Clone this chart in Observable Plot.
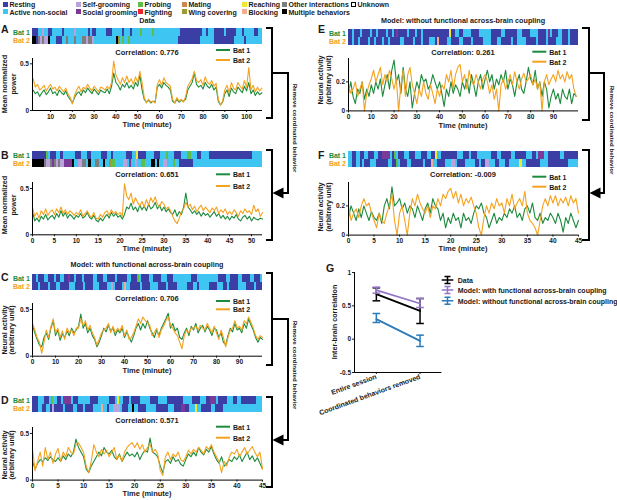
<!DOCTYPE html>
<html><head><meta charset="utf-8">
<script src="https://cdn.jsdelivr.net/npm/d3@7"></script>
<script src="https://cdn.jsdelivr.net/npm/@observablehq/plot@0.6"></script>
<style>
body{margin:0;background:#fff;}
#fig{position:relative;width:617px;height:500px;overflow:hidden;background:#fff;font-family:"Liberation Sans",Arial,Helvetica,sans-serif;font-weight:bold;color:#1a1a1a;}
.abs{position:absolute;white-space:nowrap;line-height:1;}
</style></head><body><div id="fig"></div>
<script>
// ---------------- DATA ----------------
const behaviorCodes  = ["R","A","S","G","P","F","M","W","C","B","O","X","U"];
const behaviorNames  = ["Resting","Active non-social","Self-grooming","Social grooming","Probing","Fighting","Mating","Wing covering","Reaching","Blocking","Other interactions","Multiple behaviors","Unknown"];
const behaviorColors = ["#3b3fa5","#3fc5f1","#b9a3dd","#7b3a98","#5dbf48","#e8262b","#c98a52","#9a9a36","#ece833","#f3ab95","#7d7d7d","#000000","#ffffff"];
const legendColumns  = [["Resting","Active non-social"],["Self-grooming","Social grooming"],["Probing","Fighting"],["Mating","Wing covering"],["Reaching","Blocking"],["Other interactions","Multiple behaviors"],["Unknown"]];

// behaviour sequences (one code per equal time bin)
const behA1 = "RRRAASAARRAAAAARAAAAASAAAAAARARRAAAAARRRAAAAARAAARAAAAPAAAAAPAAAAAAAAAAAAARRRRRRRRRRRAARAAARRRRRARRRRRAAARAAAAARRAA";
const behA2 = "XXROSOSSXAAARRRAAOAAAOAAAOOSOOSAAAAAAAAAAAXWAPAAPAAAAAAAAAAAAAAAAAAAAAAAARRRRRRRRRRRAAAAAAARRRRRRRRRRAAAAARAAAAAAAA";
const behB1 = "RRRRRRRPARRRAARAAAAAARRRAAARRAAAAARRRAARAAAAAARRRAACRRRRAAAARRRAAAPAAARRRAAAPPAAARRAAAARRRRRRRRRRRRRRRRRRRRRAAAAA";
const behB2 = "XXXXXXOSSOGOSOSSGGGGXAASSOOAXAAOOAAXAAWPPAAAASSAGAASAAPPAAAXXAXAASSAAAPAARRRRRRRAAAAAAAAAAAAAAAAAAAAAAAAAAAAAAAAAA";
const behC1 = "RRARRRAARRRARRAARRGRRARRRARRRRAARRRAARRRRARRRRRAARRRPARRRRAARRRRAAARRRAAAAAAAAARRRAAAAAAAAAARRRRAARRRRAARRRRAARRRA";
const behC2 = "RRRARRRRARRRAARRRRAAARRRRARRRRAAARRRRAASARRRABAARRRRRARRRRAAAARRRRARRRRAAAAARRRAARAAAAARRRRAAARRARRRRAAAARRRRARRR";
const behD1 = "RRRAAARRAPAARRAGGGGARRAAAAAARRRRAAAAARRRACAARRRARRRRAAAAARRRRAAAARRRRRRRRAAAARRRRAAARRGGGARRRRAAARRAARRRRRRRAAA";
const behD2 = "RRRAARRAARSRRRRARRRRAARRRARRRRAAAABAARAASSSARRRAAXAARRRRAAAAARRRRRRAAARRRGGRRAAACAARRRRRAARRRRAAAAAAAAAAAAAAAAAAA";
const behE1 = "RRARRRARRRRARRARRRRARRARGRRRRRARRRARRARRRRRRRRRRRRRCRRAARRAAAARRRRAAAAAARRRRRAARRRRRRAAARRRRAAAARRRRAGARRRAARRRARRRR";
const behE2 = "RRARRARRRRARRARRRARRARRRRRAARRRRARRRARRRAAARBRRRRAARRRRAARRRRARRRRRAAAARRRAARRRRRARRAAAARRRRRARRRRARRRRAAARRRARRRR";
const behF1 = "AARRAARRAARRRAARRGGGGARPARRRAARRRAAARRRAARRCAARRRRRRRRAAARRRARRRAAAAAAARRRAARRRRRAARRRRRAAARRAGGGAARRRRRRAARRRRRRR";
const behF2 = "AARRAARARRRAAARRRRRRAARRPARRRAARRRRRRARRRBAARRRRAAASSARRRRAAAAARRARRSSAAARRAAARRAAAAACAARRRRRRRAAAARRRRRRRRRRAAAAA";

// time series: start time, step (minutes), values
const timeA = {start: 2, step: 1};
const powA1 = [.22,.18,.2,.15,.19,.22,.17,.2,.24,.18, .2,.16,.22,.19,.17,.21,.15,.12,.08,.14, .18,.2,.16,.22,.19,.24,.21,.18,.23,.2, .17,.22,.2,.19,.23,.18,.26,.4,.3,.27, .22,.28,.25,.3,.24,.27,.23,.3,.26,.38, .22,.12,.09,.11,.08,.1,.09,.25,.28,.24, .3,.27,.25,.22,.1,.08,.12,.09,.11,.1, .12,.22,.26,.3,.4,.28,.25,.27,.23,.3, .26,.24,.28,.22,.25,.1,.06,.09,.18,.22, .15,.24,.2,.18,.25,.22,.19,.26,.21,.3, .18,.22,.16,.2,.17,.19];
const powA2 = [.34,.25,.28,.22,.24,.27,.21,.25,.28,.23, .25,.21,.26,.23,.2,.24,.18,.14,.07,.16, .22,.26,.2,.25,.23,.28,.24,.21,.26,.23, .2,.25,.24,.22,.26,.23,.3,.53,.38,.33, .28,.35,.3,.37,.3,.34,.28,.36,.3,.42, .3,.14,.08,.12,.09,.1,.08,.28,.33,.27, .35,.3,.28,.26,.12,.08,.14,.1,.12,.09, .15,.26,.3,.34,.42,.32,.3,.33,.27,.36, .3,.28,.32,.26,.29,.12,.06,.1,.22,.27, .19,.3,.24,.22,.3,.26,.23,.32,.25,.46, .22,.27,.2,.25,.21,.24];
const timeB = {start: 0, step: 0.5};
const powB1 = [.25,.15,.18,.14,.2,.17,.22,.16,.19,.21, .17,.23,.19,.26,.2,.24,.18,.22,.2,.17, .21,.19,.23,.18,.2,.24,.19,.17,.21,.16, .14,.18,.15,.19,.22,.18,.24,.2,.23,.19, .21,.17,.22,.3,.28,.34,.27,.3,.25,.32, .27,.31,.26,.33,.28,.3,.35,.28,.32,.26, .3,.25,.28,.24,.22,.27,.2,.25,.22,.3, .45,.3,.27,.23,.26,.22,.25,.2,.24,.21, .23,.19,.22,.25,.2,.23,.18,.21,.17,.2, .16,.2,.18,.22,.17,.15,.19,.21,.17,.2, .15,.19,.17,.16,.18,.17];
const powB2 = [.3,.2,.24,.18,.26,.22,.28,.21,.25,.27, .22,.28,.24,.3,.23,.27,.22,.26,.24,.21, .24,.22,.27,.2,.23,.26,.21,.19,.24,.18, .17,.22,.19,.24,.26,.21,.27,.23,.25,.22, .24,.2,.55,.42,.38,.45,.33,.4,.35,.31, .36,.3,.38,.32,.4,.35,.41,.33,.3,.36, .33,.28,.3,.26,.2,.15,.12,.18,.25,.28, .35,.3,.33,.27,.31,.25,.29,.32,.26,.3, .27,.24,.29,.26,.3,.23,.27,.24,.28,.22, .25,.22,.27,.24,.2,.26,.23,.28,.24,.26, .22,.32,.25,.28,.2,.24];
const timeC = {start: 0, step: 1};
const actC1 = [.33,.25,.18,.12,.1,.2,.25,.18,.3,.38, .22,.28,.17,.24,.2,.27,.22,.3,.25,.28, .32,.45,.3,.35,.25,.3,.22,.18,.1,.15, .22,.3,.26,.33,.27,.3,.22,.28,.25,.3, .2,.26,.2,.15,.22,.3,.35,.28,.35,.3, .38,.3,.25,.2,.28,.22,.3,.35,.4,.46, .3,.35,.27,.3,.2,.18,.25,.3,.22,.32, .28,.35,.25,.3,.33,.26,.32,.28,.22,.3, .28,.2,.25,.15,.12,.22,.3,.26,.35,.28, .3,.25,.35,.3,.4,.33,.28,.2,.15,.2, .18];
const actC2 = [.35,.28,.2,.15,.03,.15,.28,.2,.32,.4, .25,.3,.2,.27,.18,.3,.25,.28,.22,.3, .3,.4,.33,.38,.28,.33,.25,.2,.12,.18, .25,.28,.3,.35,.25,.32,.25,.3,.27,.33, .22,.28,.18,.2,.25,.32,.4,.35,.42,.38, .36,.33,.22,.25,.3,.2,.28,.32,.38,.42, .33,.3,.25,.22,.15,.08,.22,.28,.25,.3, .3,.32,.28,.33,.3,.28,.35,.3,.25,.32, .25,.18,.28,.2,.1,.2,.28,.3,.38,.3, .32,.28,.38,.35,.42,.36,.3,.22,.18,.22, .2];
const timeD = {start: 0, step: 0.5};
const actD1 = [.2,.12,.18,.22,.2,.24,.21,.25,.22,.2, .24,.2,.26,.22,.28,.25,.3,.44,.35,.3, .25,.12,.08,.15,.2,.25,.3,.26,.35,.3, .28,.32,.25,.22,.28,.2,.25,.3,.26,.28, .25,.3,.22,.28,.32,.3,.45,.3,.28,.25, .15,.08,.2,.22,.18,.25,.2,.22,.17,.15, .22,.28,.25,.3,.26,.35,.3,.27,.33,.3, .36,.28,.22,.18,.25,.15,.18,.22,.2,.25, .22,.27,.2,.25,.3,.22,.26,.2,.24,.18, .12];
const actD2 = [.33,.1,.2,.3,.15,.35,.22,.3,.18,.28, .34,.2,.3,.25,.35,.3,.28,.38,.4,.35, .3,.15,.08,.2,.38,.3,.25,.33,.28,.32, .25,.3,.35,.22,.27,.2,.3,.35,.38,.4, .35,.4,.33,.38,.3,.35,.38,.3,.33,.28, .1,.05,.25,.3,.22,.28,.25,.3,.22,.2, .25,.32,.28,.33,.3,.35,.32,.28,.36,.33, .38,.3,.25,.2,.08,.2,.15,.25,.3,.28, .33,.25,.3,.35,.28,.32,.36,.3,.25,.3, .12];
const timeE = {start: 0, step: 1};
const actE1 = [.12,.2,.1,.05,.15,.12,.2,.08,.15,.1, .18,.12,.2,.15,.22,.1,.18,.25,.15,.28, .35,.2,.25,.12,.3,.15,.1,.2,.02,.12, .2,.15,.25,.2,.22,.15,.18,.25,.2,.15, .2,.12,.03,.15,.1,.2,.12,.18,.15,.1, .2,.15,.22,.12,.25,.18,.1,.2,.25,.15, .22,.28,.2,.25,.15,.22,.18,.25,.2,.28, .15,.22,.18,.1,.2,.25,.15,.12,.2,.3, .22,.18,.28,.15,.2,.1,.2,.15,.02,.1, .15,.08,.12,.05,.15,.1,.08,.15,.05,.12, .1];
const actE2 = [.18,.12,.15,.2,.1,.15,.2,0,.12,.18, .22,.28,.2,.25,.3,.18,.25,.2,.28,.22, .15,.22,0,.18,.28,.1,.25,.3,.18,.12, .05,.15,.1,.2,.12,.08,.18,.12,.05,.15, .1,.18,.15,.25,.2,.28,.15,.25,.3,.32, .2,.25,.15,.28,.2,.18,.25,.2,.15,.22, .25,.2,.12,.18,.08,.15,0,.18,.22,.15, .2,.25,.18,.27,.2,.15,.22,.26,.2,.22, .25,.18,.22,.15,.2,0,.2,.25,.18,.22, .25,.2,.28,.22,.25,.2,.27,.22,.25,.15, .1];
const timeF = {start: 0, step: 0.5};
const actF1 = [.12,.2,.15,.1,.18,.12,.2,.15,.1,.16, .12,.1,.15,.08,.2,.25,.18,.33,.2,.22, .25,.18,.22,.15,.2,.18,.12,.2,.15,.1, .18,.22,.15,.25,.2,.18,.1,.15,.05,.12, .08,.15,.1,.12,.05,.15,.1,.12,.08,.15, .2,.18,.22,.15,.12,.05,.1,.15,.08,.12, .1,.15,.12,.18,.15,.2,.12,.15,.1,.18, .2,.15,.22,.12,.1,.15,.08,.12,.1,.15, .12,.08,.15,.1,.02,.12,.08,.15,.1,.05, .1];
const actF2 = [.2,.1,.15,.18,.12,.2,.25,.2,.22,.15, .1,.05,.15,.1,.08,.15,.2,.28,.1,0, .15,.2,.1,0,.15,.25,.2,.28,.22,.18, .15,.2,.12,.2,.18,.25,.2,.28,.25,.3, .32,.25,.3,.22,.28,.2,.25,.22,.26,.2, .15,.05,0,.12,.2,.15,.22,.18,.25,.2, .22,.15,.25,.2,.28,.18,.22,.25,.2,.3, .15,.1,.08,.05,0,.1,.2,.25,.2,.27, .22,.27,.2,.25,.22,.26,.2,.27,.22,.25, .15];

const ticksA = [10,20,30,40,50,60,70,80,90,100];
const ticksB = [0,5,10,15,20,25,30,35,40,45,50];
const ticksC = [0,10,20,30,40,50,60,70,80,90];
const ticks45 = [0,5,10,15,20,25,30,35,40,45];
const ticksPower = [0, 0.5];
const ticksModelWith = [0, 0.5];
const ticksModelWithout = [0, 0.2];
const correlations = {A:"0.776", B:"0.651", C:"0.706", D:"0.571", E:"0.261", F:"-0.009"};

// panel G
const gConditions = ["Entire session","Coordinated behaviors removed"];
const gSeries = ["Data","Model: with functional across-brain coupling","Model: without functional across-brain coupling"];
const gMean = [[0.675,0.425],[0.735,0.535],[0.30,-0.025]];
const gLow  = [[0.575,0.235],[0.69,0.475],[0.25,-0.11]];
const gHigh = [[0.77,0.61],[0.78,0.61],[0.385,0.06]];
const gColors = ["#000000","#9475c6","#2b7bbb"];
const gTicks = [-0.5, 0, 0.5, 1];

// ---------------- LAYOUT ----------------
const GREEN = "#1d8b3d", ORANGE = "#f4a21f";
const FONT = '"Liberation Sans", Arial, Helvetica, sans-serif';
const fig = document.getElementById("fig");

const panels = [
  {id:"A", x0:32,    barTop:27,    top:58,    zero:110,   xd:[1.7,107.3], yd:[0,0.557], time:timeA, s1:powA1, s2:powA2, b1:behA1, b2:behA2, xt:ticksA, yt:ticksPower, ylab:["Mean normalized","power"], labX:[5,13.5], labY:84,  corrY:52.7, legY:[50,60],     cx:147, letter:[1,29]},
  {id:"B", x0:32,    barTop:149.5, top:181.7, zero:234,   xd:[0,52.5],    yd:[0,0.565], time:timeB, s1:powB1, s2:powB2, b1:behB1, b2:behB2, xt:ticksB, yt:ticksPower, ylab:["Mean normalized","power"], labX:[5,13.5], labY:205, corrY:175,  legY:[174.3,186], cx:147, letter:[1,155]},
  {id:"C", x0:32,    barTop:272.5, top:303,   zero:355.7, xd:[0,100],     yd:[0,0.564], time:timeC, s1:actC1, s2:actC2, b1:behC1, b2:behC2, xt:ticksC, yt:ticksModelWith, ylab:["Neural activity","(arbitrary unit)"], labX:[4.5,12], labY:330, corrY:299, legY:[301,309.3], cx:147, letter:[1,277]},
  {id:"D", x0:32,    barTop:395,   top:426.7, zero:479.3, xd:[0,45],      yd:[0,0.564], time:timeD, s1:actD1, s2:actD2, b1:behD1, b2:behD2, xt:ticks45, yt:ticksModelWith, ylab:["Neural activity","(arbitrary unit)"], labX:[4.5,12], labY:455, corrY:420.7, legY:[426.7,437.7], cx:147, letter:[1,400]},
  {id:"E", x0:348.3, barTop:27.5,  top:58.3,  zero:110.7, xd:[0,101],     yd:[0,0.361], time:timeE, s1:actE1, s2:actE2, b1:behE1, b2:behE2, xt:ticksC, yt:ticksModelWithout, ylab:["Neural activity","(arbitrary unit)"], labX:[320.5,329], labY:80, corrY:52.7, legY:[51.7,61.7], cx:463, letter:[318,29]},
  {id:"F", x0:348.3, barTop:150,   top:181.7, zero:234.3, xd:[0,45],      yd:[0,0.36],  time:timeF, s1:actF1, s2:actF2, b1:behF1, b2:behF2, xt:ticks45, yt:ticksModelWithout, ylab:["Neural activity","(arbitrary unit)"], labX:[320.5,329], labY:207, corrY:175, legY:[176.7,186.7], cx:463, letter:[318,155]},
];

function text(txt, x, y, o = {}) {
  const d = document.createElement("div");
  d.className = "abs";
  d.textContent = txt;
  d.style.fontSize = (o.size || 7) + "px";
  d.style.fontWeight = o.weight || "bold";
  d.style.color = o.color || "#1a1a1a";
  d.style.left = x + "px";
  d.style.top = y + "px";
  const tx = o.anchor === "middle" ? "-50%" : o.anchor === "end" ? "-100%" : "0";
  d.style.transform = o.rotate != null ? `translate(-50%,-50%) rotate(${o.rotate}deg)` : `translate(${tx},-50%)`;
  fig.appendChild(d);
  return d;
}
function place(el, left, top) {
  el.style.position = "absolute";
  el.style.left = left + "px";
  el.style.top = top + "px";
  fig.appendChild(el);
}
const baseStyle = {fontFamily: FONT, fontWeight: "bold", color: "#1a1a1a", background: "transparent", overflow: "visible"};

// top behaviour legend
const legColX = [3, 76, 138, 182, 242, 282, 351];
const legRowY = [4, 11.8];
legendColumns.forEach((col, ci) => {
  col.forEach((name, ri) => {
    const k = behaviorNames.indexOf(name);
    const sq = document.createElement("div");
    sq.className = "abs";
    Object.assign(sq.style, {left: legColX[ci] + "px", top: (legRowY[ri] - 2.5) + "px", width: "5px", height: "5px",
      background: behaviorColors[k], boxSizing: "border-box", border: name === "Unknown" ? "1px solid #000" : "none"});
    fig.appendChild(sq);
    text(name, legColX[ci] + 6.5, legRowY[ri], {size: 7});
  });
});

// titles
text("Data", 147, 21.3, {anchor: "middle", size: 7.2});
text("Model: with functional across-brain coupling", 147, 265, {anchor: "middle", size: 7.2});
text("Model: without functional across-brain coupling", 463, 21.3, {anchor: "middle", size: 7.2});

panels.forEach(p => {
  // behaviour bars
  const cells = [];
  [["Bat 1", p.b1], ["Bat 2", p.b2]].forEach(([bat, seq]) => {
    const n = seq.length, w = (p.xd[1] - p.xd[0]) / n;
    let i = 0;
    while (i < n) {
      let j = i;
      while (j < n && seq[j] === seq[i]) j++;
      cells.push({bat, code: seq[i], x1: p.xd[0] + i * w, x2: p.xd[0] + j * w});
      i = j;
    }
  });
  const bmL = 32, bmR = 2;
  const bars = Plot.plot({
    width: 230 + bmL + bmR, height: 17.5,
    marginLeft: bmL, marginRight: bmR, marginTop: 0, marginBottom: 0,
    style: {...baseStyle, fontSize: "7px"},
    x: {domain: p.xd, axis: null},
    y: {domain: ["Bat 1", "Bat 2"], padding: 0.06, axis: null},
    color: {domain: behaviorCodes, range: behaviorColors},
    marks: [
      Plot.barX(cells, {x1: "x1", x2: "x2", y: "bat", fill: "code", shapeRendering: "crispEdges"}),
      Plot.text(["Bat 1"], {y: d => d, text: d => d, frameAnchor: "left", textAnchor: "end", dx: -2.5, fill: GREEN, fontSize: 7, fontWeight: "bold"}),
      Plot.text(["Bat 2"], {y: d => d, text: d => d, frameAnchor: "left", textAnchor: "end", dx: -2.5, fill: ORANGE, fontSize: 7, fontWeight: "bold"})
    ]
  });
  place(bars, p.x0 - bmL, p.barTop);

  // line chart
  const mL = 30, mR = 4, mT = 3, mB = 20;
  const d1 = p.s1.map((v, i) => ({t: p.time.start + i * p.time.step, v}));
  const d2 = p.s2.map((v, i) => ({t: p.time.start + i * p.time.step, v}));
  const chart = Plot.plot({
    width: 230 + mL + mR, height: (p.zero - p.top) + mT + mB,
    marginLeft: mL, marginRight: mR, marginTop: mT, marginBottom: mB,
    style: {...baseStyle, fontSize: "6.5px"},
    x: {domain: p.xd},
    y: {domain: p.yd},
    marks: [
      Plot.axisX(p.xt, {tickSize: 2, tickPadding: 1.5, label: null}),
      Plot.axisY(p.yt, {tickSize: 2, tickPadding: 1.5, label: null, tickFormat: d => String(d)}),
      Plot.line(d1, {x: "t", y: "v", stroke: GREEN, strokeWidth: 1.1}),
      Plot.line(d2, {x: "t", y: "v", stroke: ORANGE, strokeWidth: 1.1}),
      Plot.ruleX([p.xd[0]], {stroke: "#000", strokeWidth: 1}),
      Plot.ruleY([0], {stroke: "#000", strokeWidth: 1})
    ]
  });
  place(chart, p.x0 - mL, p.top - mT);

  // texts
  text(p.id, p.letter[0], p.letter[1], {size: 10.5});
  text("Correlation: " + correlations[p.id], p.cx, p.corrY, {anchor: "middle", size: 7.5});
  text("Time (minute)", p.cx, p.zero + 15, {anchor: "middle", size: 7.5});
  text(p.ylab[0], p.labX[0], p.labY, {rotate: -90, size: 7.2});
  text(p.ylab[1], p.labX[1], p.labY, {rotate: -90, size: 7.2});
  const lx = p.x0 + 184;
  text("Bat 1", lx + 17, p.legY[0], {size: 7});
  text("Bat 2", lx + 17, p.legY[1], {size: 7});
  p.legLine = lx;
});

// panel G
const gRows = [];
gSeries.forEach((s, k) => gConditions.forEach((c, i) => gRows.push({series: s, k, i, mean: gMean[k][i], low: gLow[k][i], high: gHigh[k][i]})));
const capSymbol = {draw(ctx, size) { const r = Math.sqrt(size / Math.PI); ctx.moveTo(-r, 0); ctx.lineTo(r, 0); }};
const gmL = 20, gmR = 6, gmT = 4, gmB = 30;
const gMarks = [
  Plot.axisY(gTicks, {tickSize: 2, tickPadding: 1.5, label: null, tickFormat: d => String(d)}),
  Plot.axisX([0, 1], {tickSize: 2, tickPadding: 2, label: null, tickRotate: -20, tickFormat: i => gConditions[i], fontSize: 7}),
  Plot.ruleX([-0.5], {stroke: "#000"}),
  Plot.ruleY([-0.5], {stroke: "#000"})
];
gSeries.forEach((s, k) => {
  const rows = gRows.filter(r => r.k === k);
  gMarks.push(
    Plot.line(rows, {x: "i", y: "mean", stroke: gColors[k], strokeWidth: 1.8}),
    Plot.ruleX(rows, {x: "i", y1: "low", y2: "high", stroke: gColors[k], strokeWidth: 1.5}),
    Plot.dot(rows, {x: "i", y: "low", symbol: capSymbol, r: 3.8, fill: "none", stroke: gColors[k], strokeWidth: 1.5}),
    Plot.dot(rows, {x: "i", y: "high", symbol: capSymbol, r: 3.8, fill: "none", stroke: gColors[k], strokeWidth: 1.5})
  );
});
const gChart = Plot.plot({
  width: 87.4 + gmL + gmR, height: 100 + gmT + gmB,
  marginLeft: gmL, marginRight: gmR, marginTop: gmT, marginBottom: gmB,
  style: {...baseStyle, fontSize: "6.5px"},
  x: {domain: [-0.5, 1.5]},
  y: {domain: [-0.5, 1]},
  marks: gMarks
});
place(gChart, 354.3 - gmL, 271.7 - gmT);
text("G", 326, 268, {size: 10.5});
text("Inter-brain correlation", 335, 321.7, {rotate: -90, size: 7.2});
const gLegY = [280, 290, 300.7];
gSeries.forEach((s, k) => text(s, 457.7, gLegY[k], {size: 7}));

// overlay annotations (brackets, arrows, legend glyphs)
const svg = d3.create("svg").attr("width", 617).attr("height", 500)
  .style("position", "absolute").style("left", 0).style("top", 0).style("pointer-events", "none");
const path = (d, w = 2) => svg.append("path").attr("d", d).attr("fill", "none").attr("stroke", "#000").attr("stroke-width", w);
const arrow = (tipX, y, len = 11, half = 5.5) => svg.append("path")
  .attr("d", `M${tipX},${y}L${tipX + len},${y - half}L${tipX + len},${y + half}Z`).attr("fill", "#000");
// left column
path("M266,28H272V118H266"); path("M272,73H288V193H283"); arrow(272.5, 193); path("M266,150H272V240H266");
path("M266,273H272V365H266"); path("M272,319H288V440H283"); arrow(272.5, 440); path("M266,397H272V487H266");
// right column
path("M582,28H589V120H582"); path("M589,73H604V193H599"); arrow(589.5, 193); path("M582,150H589V240H582");
// bat line legends
panels.forEach(p => {
  svg.append("line").attr("x1", p.legLine).attr("x2", p.legLine + 14).attr("y1", p.legY[0]).attr("y2", p.legY[0]).attr("stroke", GREEN).attr("stroke-width", 2);
  svg.append("line").attr("x1", p.legLine).attr("x2", p.legLine + 14).attr("y1", p.legY[1]).attr("y2", p.legY[1]).attr("stroke", ORANGE).attr("stroke-width", 2);
});
// G legend glyphs
gLegY.forEach((y, k) => {
  const c = gColors[k];
  svg.append("path").attr("d", `M441.7,${y}H453.3M447.5,${y - 3.5}V${y + 3.5}M444.5,${y - 3.5}H450.5M444.5,${y + 3.5}H450.5`)
    .attr("stroke", c).attr("stroke-width", 1.5).attr("fill", "none");
});
fig.appendChild(svg.node());

text("Remove coordinated behavior", 295, 128, {rotate: 90, size: 6.2});
text("Remove coordinated behavior", 295, 365, {rotate: 90, size: 6.2});
text("Remove coordinated behavior", 611.5, 130, {rotate: 90, size: 6.2});
</script></body></html>
